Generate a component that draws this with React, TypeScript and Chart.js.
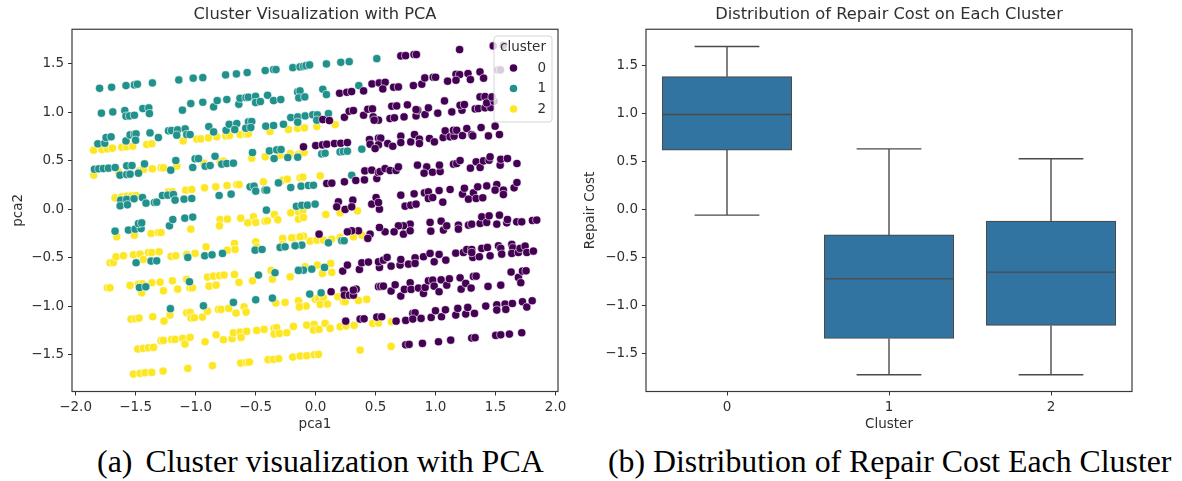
import React, { useEffect, useRef } from "react";
import { Chart, registerables } from "chart.js";

Chart.register(...registerables);

const FONT = "'DejaVu Sans', sans-serif";
const INK = "#303030";

const clusterNames = ["0", "1", "2"];
const clusterColors = ["#440154", "#21918c", "#fde725"];

const xTicksPca = [-2, -1.5, -1, -0.5, 0, 0.5, 1, 1.5, 2];
const yTicksPca = [-1.5, -1, -0.5, 0, 0.5, 1, 1.5];
const yTicksCost = [-1.5, -1, -0.5, 0, 0.5, 1, 1.5];

const cluster0Points: number[][] = [
  [0.71,1.581],[0.75,1.584],[0.82,1.595],[0.84,1.595],[1.2,1.646],[1.48,1.684],[1.565,1.69],
  [0.2,1.196],[0.26,1.206],[0.3,1.213],[0.4,1.22],[0.47,1.292],[0.53,1.302],[0.58,1.309],[0.56,1.24],[0.65,1.258],[0.69,1.261],[0.815,1.275],[0.885,1.289],[0.91,1.354],[0.98,1.361],[1.0,1.361],[1.1,1.32],[1.17,1.392],[1.2,1.388],[1.17,1.33],[1.27,1.399],[1.29,1.337],[1.37,1.416],[1.4,1.351],[1.52,1.436],[1.54,1.436],
  [0.06,0.924],[0.115,0.914],[0.24,0.948],[0.28,1.01],[0.315,1.017],[0.4,0.969],[0.435,1.031],[0.474,1.034],[0.48,0.952],[0.524,0.918],[0.488,0.918],[0.62,0.935],[0.657,0.942],[0.737,0.952],[0.837,0.962],[0.851,1.021],[0.912,0.976],[0.94,1.045],[1.018,0.99],[1.135,1.003],[1.22,1.021],[0.635,1.062],[0.676,1.065],[0.765,1.076],[0.837,1.027],[1.074,1.117],[1.204,1.072],[1.24,1.079],[1.33,1.034],[1.357,1.038],[1.412,1.045],[1.46,1.048],[1.37,1.158],[1.412,1.162],[1.426,1.096],[1.487,1.113],[1.47,1.158],
  [-0.101,0.643],[0.001,0.656],[0.057,0.663],[0.093,0.67],[0.157,0.677],[0.21,0.68],[0.265,0.687],[0.449,0.718],[0.524,0.732],[0.543,0.732],[0.454,0.67],[0.524,0.663],[0.496,0.625],[0.601,0.677],[0.643,0.649],[0.71,0.753],[0.71,0.687],[0.793,0.694],[0.824,0.77],[0.865,0.722],[0.865,0.677],[0.949,0.729],[0.99,0.694],[1.063,0.739],[1.08,0.808],[1.121,0.746],[1.154,0.753],[1.149,0.814],[1.176,0.814],[1.224,0.759],[1.26,0.832],[1.301,0.77],[1.31,0.756],[1.379,0.842],[1.44,0.756],[1.496,0.856],[1.532,0.77],
  [0.093,0.265],[0.135,0.268],[0.24,0.282],[0.335,0.296],[0.407,0.302],[0.51,0.316],[0.41,0.395],[0.468,0.402],[0.524,0.378],[0.538,0.388],[0.579,0.419],[0.621,0.399],[0.671,0.399],[0.69,0.436],[0.849,0.454],[0.926,0.436],[0.904,0.371],[0.974,0.381],[1.038,0.388],[1.032,0.454],[1.149,0.464],[1.176,0.471],[1.204,0.502],[1.29,0.423],[1.338,0.488],[1.371,0.43],[1.399,0.498],[1.446,0.505],[1.454,0.54],[1.538,0.454],[1.543,0.515],[1.599,0.522],[1.678,0.471],
  [0.19,0.076],[0.31,0.093],[0.176,0.024],[0.246,-0.003],[0.301,0.024],[0.468,0.052],[0.504,0.12],[0.532,0],[0.524,0.069],[0.71,0.144],[0.746,0.031],[0.793,0.041],[0.837,0.052],[0.821,0.158],[0.907,0.168],[0.94,0.179],[0.94,0.11],[0.976,0.12],[1.029,0.192],[1.121,0.203],[1.06,0.072],[1.224,0.155],[1.24,0.216],[1.315,0.168],[1.274,0.103],[1.338,0.11],[1.393,0.117],[1.351,0.23],[1.426,0.24],[1.51,0.254],[1.496,0.196],[1.565,0.196],[1.565,0.151],[1.654,0.22],[1.678,0.275],
  [0.954,-0.137],[0.96,-0.227],[1.046,-0.124],[1.065,-0.216],[1.093,-0.172],[1.19,-0.165],[1.19,-0.206],[1.274,-0.165],[1.301,-0.155],[1.371,-0.148],[1.385,-0.079],[1.426,-0.137],[1.446,-0.069],[1.532,-0.062],[1.51,-0.155],[1.593,-0.141],[1.599,-0.107],[1.676,-0.131],[1.718,-0.131],[1.807,-0.117],[1.843,-0.113],[0.788,-0.155],[0.732,-0.172],[0.69,-0.172],[0.732,-0.258],[0.654,-0.234],[0.788,-0.223],[0.579,-0.234],[0.532,-0.189],[0.454,-0.258],[0.435,-0.302],[0.357,-0.223],[0.301,-0.223],[0.265,-0.234],[0.029,-0.258],
  [0.226,-0.639],[0.265,-0.577],[0.365,-0.622],[0.385,-0.553],[0.44,-0.546],[0.532,-0.601],[0.524,-0.543],[0.565,-0.526],[0.596,-0.498],[0.629,-0.588],[0.704,-0.577],[0.71,-0.519],[0.774,-0.567],[0.829,-0.502],[0.829,-0.56],[0.899,-0.491],[0.954,-0.457],[0.988,-0.543],[1.029,-0.467],[1.085,-0.526],[1.168,-0.454],[1.232,-0.447],[1.26,-0.416],[1.301,-0.416],[1.31,-0.498],[1.301,-0.447],[1.365,-0.491],[1.385,-0.405],[1.432,-0.395],[1.454,-0.481],[1.524,-0.378],[1.543,-0.405],[1.551,-0.464],[1.635,-0.364],[1.643,-0.399],[1.635,-0.457],[1.69,-0.447],[1.704,-0.405],[1.746,-0.381],[1.76,-0.447],[1.815,-0.433],
  [0.129,-0.852],[0.238,-0.835],[0.24,-0.887],[0.282,-0.887],[0.315,-0.887],[0.338,-0.825],[0.315,-0.835],[0.524,-0.8],[0.543,-0.797],[0.565,-0.794],[0.629,-0.845],[0.663,-0.78],[0.71,-0.897],[0.74,-0.828],[0.788,-0.759],[0.796,-0.828],[0.857,-0.814],[0.899,-0.869],[0.913,-0.808],[0.94,-0.739],[0.976,-0.732],[0.988,-0.794],[1.029,-0.852],[1.046,-0.729],[1.093,-0.784],[1.115,-0.718],[1.213,-0.825],[1.204,-0.708],[1.251,-0.766],[1.296,-0.814],[1.315,-0.694],[1.338,-0.691],[1.437,-0.797],[1.543,-0.784],[1.629,-0.649],[1.69,-0.704],[1.71,-0.759],[1.724,-0.639],[1.754,-0.636],
  [0.251,-1.155],[0.371,-1.134],[0.404,-1.131],[0.51,-1.113],[0.551,-1.11],[0.671,-1.155],[0.751,-1.148],[0.81,-1.076],[0.829,-1.069],[0.81,-1.134],[0.879,-1.127],[0.963,-1.117],[0.999,-1.048],[1.049,-1.11],[1.082,-1.038],[1.168,-1.093],[1.185,-1.024],[1.251,-1.082],[1.268,-1.014],[1.324,-1.076],[1.418,-1.0],[1.51,-0.986],[1.51,-1.041],[1.579,-0.979],[1.585,-1.034],[1.64,-0.973],[1.724,-0.955],[1.76,-1.01],[1.805,-0.945],
  [0.751,-1.399],[0.779,-1.395],[0.89,-1.385],[1.024,-1.368],[1.126,-1.351],[1.301,-1.33],[1.329,-1.326],[1.501,-1.302],[1.543,-1.296],[1.615,-1.289],[1.718,-1.275],
];

const cluster1Points: number[][] = [
  [-1.8,1.247],[-1.7,1.258],[-1.58,1.275],[-1.51,1.282],[-1.485,1.289],[-1.36,1.302],[-1.14,1.333],[-1.02,1.351],[-0.94,1.357],[-0.75,1.385],[-0.66,1.395],[-0.57,1.409],[-0.42,1.43],[-0.35,1.44],[-0.33,1.44],[-0.19,1.46],[-0.13,1.467],[-0.1,1.474],[-0.08,1.48],[-0.05,1.488],[0.09,1.498],[0.21,1.515],[0.28,1.522],[0.51,1.553],
  [-1.785,0.99],[-1.69,1.003],[-1.59,1.017],[-1.58,0.959],[-1.55,0.962],[-1.51,0.969],[-1.44,1.038],[-1.39,1.045],[-1.385,0.986],[-1.11,1.021],[-1.04,1.089],[-0.94,1.103],[-0.85,1.055],[-0.82,1.12],[-0.74,1.131],[-0.64,1.082],[-0.63,1.144],[-0.58,1.151],[-0.56,1.155],[-0.5,1.165],[-0.5,1.1],[-0.46,1.11],[-0.4,1.175],[-0.35,1.12],[-0.29,1.131],[-0.15,1.21],[-0.13,1.22],[-0.14,1.148],[-0.09,1.158],[0.06,1.237],[0.09,1.182],[0.36,1.275],
  [-1.815,0.674],[-1.757,0.68],[-1.746,0.739],[-1.704,0.746],[-1.58,0.704],[-1.546,0.766],[-1.51,0.773],[-1.496,0.777],[-1.5,0.711],[-1.38,0.787],[-1.31,0.739],[-1.226,0.808],[-1.2,0.811],[-1.15,0.818],[-1.087,0.828],[-1.157,0.763],[-1.074,0.77],[-1.046,0.77],[-0.89,0.852],[-0.85,0.797],[-0.746,0.814],[-0.72,0.876],[-0.657,0.883],[-0.674,0.821],[-0.56,0.9],[-0.532,0.904],[-0.582,0.835],[-0.54,0.842],[-0.415,0.856],[-0.35,0.863],[-0.268,0.876],[-0.207,0.945],[-0.149,0.952],[-0.149,0.897],[-0.087,0.962],[-0.024,0.973],[0.015,0.973],[0.01,0.918],[0.107,0.986],
  [-1.843,0.412],[-1.807,0.416],[-1.768,0.419],[-1.726,0.423],[-1.67,0.43],[-1.574,0.447],[-1.53,0.45],[-1.426,0.467],[-1.63,0.351],[-1.574,0.357],[-1.546,0.361],[-1.476,0.371],[-1.207,0.402],[-1.165,0.502],[-1.024,0.43],[-1.004,0.519],[-0.976,0.522],[-0.92,0.443],[-0.879,0.45],[-0.838,0.546],[-0.782,0.464],[-0.74,0.471],[-0.685,0.474],[-0.526,0.584],[-0.385,0.601],[-0.324,0.612],[-0.288,0.615],[-0.346,0.522],[-0.232,0.533],[-0.149,0.536],[0.051,0.57],[0.079,0.577],[0.204,0.591],[0.232,0.595],[0.265,0.598],[0.385,0.619],
  [-1.624,0.093],[-1.574,0.1],[-1.629,0.034],[-1.568,0.045],[-1.513,0.107],[-1.443,0.12],[-1.413,0.062],[-1.343,0.069],[-1.324,0.072],[-1.276,0.141],[-1.232,0.144],[-1.185,0.151],[-1.171,0.093],[-1.096,0.103],[-1.032,0.11],[-0.804,0.141],[-0.704,0.155],[-0.546,0.23],[-0.513,0.237],[-0.499,0.186],[-0.421,0.196],[-0.407,0.196],[-0.31,0.271],[-0.207,0.223],[-0.121,0.237],[-0.06,0.244],[-0.018,0.247],[0.301,0.35],
  [-1.671,-0.227],[-1.56,-0.216],[-1.504,-0.206],[-1.454,-0.2],[-1.476,-0.148],[-1.449,-0.141],[-1.218,-0.172],[-1.19,-0.107],[-1.09,-0.093],[-1.024,-0.082],[-0.41,-0.01],[-0.16,0.03],[-0.115,0.04],[-0.068,0.041],[-0.004,0.052],
  [-0.171,-0.375],[-0.115,-0.371],[0.107,-0.347],[0.218,-0.326],[0.238,-0.326],
  [-1.496,-0.553],[-1.371,-0.536],[-1.324,-0.533],[-1.065,-0.498],[-0.924,-0.481],[-0.863,-0.471],[-0.776,-0.457],[-0.504,-0.423],[-0.446,-0.416],[-0.296,-0.395],[-0.254,-0.388],[-0.171,-0.378],[-0.143,-0.629],[-0.101,-0.629],[-0.032,-0.619],[0.074,-0.601],
  [-1.468,-0.808],[-1.415,-0.801],[-1.051,-0.749],[-0.476,-0.68],[-0.338,-0.656],[-0.143,-0.632],[-0.049,-0.876],[0.046,-0.863],
  [-1.21,-1.027],[-0.935,-0.997],[-0.685,-0.962],[-0.499,-0.935],[-0.36,-0.918],
];

const cluster2Points: number[][] = [
  [-1.85,0.608],[-1.78,0.615],[-1.735,0.622],[-1.693,0.629],[-1.615,0.639],[-1.574,0.643],[-1.524,0.649],[-1.407,0.667],[-1.365,0.674],[-1.104,0.704],[-0.99,0.722],[-0.957,0.725],[-0.893,0.735],[-0.824,0.746],[-0.749,0.756],[-0.718,0.759],[-0.629,0.77],[-0.58,0.773],[-0.56,0.777],[-0.38,0.8],[-0.226,0.821],[-0.149,0.832],[-0.093,0.838],[0.01,0.852],[0.163,0.873],
  [-1.849,0.351],[-1.643,0.385],[-1.468,0.395],[-1.435,0.409],[-1.36,0.416],[-1.288,0.426],[-1.268,0.426],[-1.157,0.443],[-0.93,0.474],[-0.796,0.491],[-0.768,0.495],[-0.532,0.526],[-0.42,0.54],[-0.296,0.557],[-0.212,0.574],[-0.143,0.567],[-0.115,0.581],[-0.096,0.584],
  [-1.671,0.117],[-1.615,0.127],[-1.574,0.134],[-1.532,0.137],[-1.496,0.141],[-1.226,0.179],[-1.193,0.179],[-1.082,0.196],[-1.032,0.203],[-0.926,0.22],[-0.832,0.23],[-0.738,0.244],[-0.657,0.254],[-0.638,0.254],[-0.435,0.282],[-0.274,0.299],[-0.235,0.309],[-0.129,0.323],[-0.107,0.33],[0.038,0.344],
  [-1.657,-0.285],[-1.51,-0.268],[-1.371,-0.251],[-1.31,-0.241],[-1.288,-0.241],[-1.04,-0.206],[-0.796,-0.107],[-0.735,-0.103],[-0.801,-0.172],[-0.624,-0.093],[-0.565,-0.141],[-0.518,-0.079],[-0.499,-0.137],[-0.421,-0.124],[-0.401,-0.12],[-0.343,-0.055],[-0.315,-0.11],[-0.207,-0.038],[-0.143,-0.103],[-0.143,-0.027],[-0.107,-0.017],[-0.101,-0.086],[0.085,-0.055],[0.204,-0.038],[0.349,-0.017],
  [-0.185,-0.296],[-0.101,-0.278],[-0.046,-0.33],[0.01,-0.32],[0.065,-0.32],[0.135,-0.309],[0.204,-0.292],[0.315,-0.285],[0.385,-0.268],
  [-1.713,-0.553],[-1.685,-0.55],[-1.663,-0.491],[-1.601,-0.481],[-1.518,-0.471],[-1.463,-0.464],[-1.435,-0.519],[-1.393,-0.447],[-1.365,-0.447],[-1.304,-0.44],[-1.204,-0.488],[-1.165,-0.481],[-1.074,-0.467],[-1.004,-0.457],[-0.913,-0.388],[-0.735,-0.423],[-0.676,-0.354],[-0.671,-0.416],[-0.499,-0.337],[-0.49,-0.388],[-0.274,-0.302],[-0.274,-0.364],[-0.199,-0.296],[-0.129,-0.285],[-0.087,-0.594],[0.015,-0.577],[0.126,-0.56],[0.057,-0.663],[0.135,-0.653],
  [-1.735,-0.811],[-1.713,-0.811],[-1.546,-0.787],[-1.476,-0.773],[-1.443,-0.77],[-1.449,-0.863],[-1.365,-0.759],[-1.296,-0.753],[-1.268,-0.842],[-1.193,-0.739],[-1.149,-0.825],[-1.074,-0.725],[-1.046,-0.814],[-1.026,-0.811],[-0.901,-0.701],[-0.888,-0.794],[-0.851,-0.691],[-0.829,-0.784],[-0.801,-0.687],[-0.763,-0.68],[-0.676,-0.674],[-0.638,-0.756],[-0.526,-0.739],[-0.371,-0.632],[-0.36,-0.722],[-0.212,-0.698],
  [-0.138,-0.945],[-0.135,-1.014],[-0.079,-1.0],[-0.004,-0.928],[0.024,-0.921],[0.065,-0.914],[0.038,-0.983],[0.099,-0.979],[0.185,-0.904],[0.232,-0.955],[0.246,-0.955],[0.357,-0.942],[0.426,-0.931],
  [-1.538,-1.134],[-1.499,-1.131],[-1.471,-1.124],[-1.357,-1.11],[-1.263,-1.155],[-1.213,-1.093],[-1.074,-1.069],[-1.046,-1.065],[-1.038,-1.124],[-1.01,-1.12],[-0.943,-1.113],[-0.901,-1.052],[-0.81,-1.034],[-0.788,-1.034],[-0.724,-1.024],[-0.663,-1.072],[-0.596,-1.007],[-0.579,-1.062],[-0.332,-0.969],[-0.254,-0.962],[-0.143,-0.945],[-0.135,-1.007],
  [-1.482,-1.443],[-1.435,-1.436],[-1.393,-1.43],[-1.351,-1.426],[-1.288,-1.357],[-1.268,-1.354],[-1.199,-1.344],[-1.171,-1.344],[-1.107,-1.333],[-1.088,-1.392],[-1.046,-1.323],[-0.921,-1.368],[-0.829,-1.296],[-0.768,-1.347],[-0.696,-1.337],[-0.685,-1.275],[-0.629,-1.268],[-0.621,-1.323],[-0.574,-1.261],[-0.49,-1.251],[-0.429,-1.241],[-0.346,-1.23],[-0.324,-1.223],[-0.346,-1.289],[-0.301,-1.282],[-0.24,-1.275],[-0.185,-1.21],
  [-0.074,-1.196],[-0.012,-1.189],[-0.018,-1.247],[0.029,-1.241],[0.079,-1.179],[0.121,-1.23],[0.204,-1.213],[0.254,-1.206],[0.321,-1.199],[0.476,-1.179],[0.524,-1.175],[0.632,-1.162],
  [-1.518,-1.701],[-1.463,-1.694],[-1.421,-1.687],[-1.365,-1.684],[-1.271,-1.67],[-1.065,-1.643],[-0.86,-1.615],[-0.624,-1.588],[-0.574,-1.581],[-0.551,-1.577],[-0.396,-1.553],[-0.351,-1.55],[-0.307,-1.543],[-0.19,-1.526],[-0.129,-1.515],[-0.074,-1.512],[-0.012,-1.502],[0.024,-1.498],[0.371,-1.454],[0.629,-1.416],
];

const boxCategories = [0, 1, 2];
const whiskerHigh = [1.7, 0.632, 0.53];
const quartile3 = [1.385, -0.264, -0.12];
const medians = [0.99, -0.722, -0.652];
const quartile1 = [0.62, -1.344, -1.208];
const whiskerLow = [-0.058, -1.722, -1.722];

const toXY = (pts: number[][]) => pts.map(([x, y]) => ({ x, y }));
const gap = { x: null, y: null };
const fmt = (v: number) => v.toFixed(1).replace("-", "\u2212");

const axis = (opts: any) => ({
  type: "linear",
  offset: false,
  min: opts.min,
  max: opts.max,
  afterBuildTicks: (s: any) => { s.ticks = opts.ticks.map((value: number) => ({ value })); },
  afterFit: (s: any) => {
    if (opts.width !== undefined) s.width = opts.width;
    if (opts.height !== undefined) s.height = opts.height;
  },
  grid: { offset: false, drawOnChartArea: false, drawTicks: true, tickLength: 4, tickColor: INK, tickWidth: 1 },
  border: { display: false },
  ticks: {
    autoSkip: false, maxRotation: 0, padding: 4, color: INK,
    font: { family: FONT, size: 13.5 },
    callback: opts.format,
  },
  title: {
    display: true, text: opts.title, color: INK,
    font: { family: FONT, size: 13.5 },
    padding: opts.titlePadding,
  },
});

const frame = {
  id: "frame",
  afterDraw(chart: any) {
    const { ctx, chartArea: a } = chart;
    ctx.save();
    ctx.strokeStyle = "#3a3a3a";
    ctx.lineWidth = 1.2;
    ctx.strokeRect(a.left, a.top, a.right - a.left, a.bottom - a.top);
    ctx.restore();
  },
};

const legendBox = {
  id: "legendBox",
  afterDatasetsDraw(chart: any) {
    const { ctx } = chart;
    ctx.save();
    ctx.beginPath();
    ctx.roundRect(494, 36, 58, 86, 3);
    ctx.fillStyle = "rgba(255,255,255,0.8)";
    ctx.fill();
    ctx.strokeStyle = "rgba(204,204,204,0.8)";
    ctx.lineWidth = 1;
    ctx.stroke();
    ctx.font = `13.5px ${FONT}`;
    ctx.fillStyle = INK;
    ctx.textBaseline = "middle";
    ctx.textAlign = "center";
    ctx.fillText("cluster", 523, 47);
    clusterNames.forEach((name, i) => {
      const y = 68 + i * 20.5;
      ctx.beginPath();
      ctx.arc(513.5, y, 3.8, 0, Math.PI * 2);
      ctx.fillStyle = clusterColors[i];
      ctx.fill();
      ctx.fillStyle = INK;
      ctx.textAlign = "left";
      ctx.fillText(name, 537.5, y);
    });
    ctx.restore();
  },
};

const titleOpts = (text: string) => ({
  display: true, text, color: INK, fullSize: false,
  font: { family: FONT, size: 16.3, weight: "normal" },
  padding: { top: 5, bottom: 4.7 },
});

function makeScatter(canvas: HTMLCanvasElement) {
  const points = [cluster0Points, cluster1Points, cluster2Points];
  return new Chart(canvas, {
    type: "scatter",
    data: {
      datasets: clusterNames.map((name, i) => ({
        label: name,
        data: toXY(points[i]),
        backgroundColor: clusterColors[i],
        borderColor: "rgba(255,255,255,0.75)",
        borderWidth: 0.8,
        pointRadius: 4.1,
      })),
    },
    options: {
      responsive: false, animation: false, events: [],
      layout: { padding: { right: 42 } },
      plugins: { legend: { display: false }, tooltip: { enabled: false }, title: titleOpts("Cluster Visualization with PCA") },
      scales: {
        x: axis({ min: -2.03, max: 2.02, ticks: xTicksPca, format: fmt, height: 48.5, title: "pca1", titlePadding: { top: 0, bottom: 7.5 } }),
        y: axis({ min: -1.881, max: 1.856, ticks: yTicksPca, format: fmt, width: 72, title: "pca2", titlePadding: { top: 10, bottom: 0 } }),
      },
    } as any,
    plugins: [legendBox, frame],
  });
}

function makeBox(canvas: HTMLCanvasElement) {
  const whiskers: any[] = [];
  boxCategories.forEach((c, i) => {
    whiskers.push({ x: c, y: whiskerHigh[i] }, { x: c, y: quartile3[i] }, gap);
    whiskers.push({ x: c, y: quartile1[i] }, { x: c, y: whiskerLow[i] }, gap);
    whiskers.push({ x: c - 0.2, y: whiskerHigh[i] }, { x: c + 0.2, y: whiskerHigh[i] }, gap);
    whiskers.push({ x: c - 0.2, y: whiskerLow[i] }, { x: c + 0.2, y: whiskerLow[i] }, gap);
  });
  const medianLines: any[] = [];
  boxCategories.forEach((c, i) => {
    medianLines.push({ x: c - 0.4, y: medians[i] }, { x: c + 0.4, y: medians[i] }, gap);
  });
  const line = { type: "scatter", showLine: true, spanGaps: false, pointRadius: 0, borderColor: "#4a4a4a", borderWidth: 1.4 };
  return new Chart(canvas, {
    type: "bar",
    data: {
      datasets: [
        { ...line, label: "median", data: medianLines, order: 0 },
        {
          type: "bar", label: "Repair Cost", order: 1,
          data: boxCategories.map((c, i) => ({ x: c, y: [quartile1[i], quartile3[i]] })),
          backgroundColor: "#3274a1", borderColor: "#4a4a4a", borderWidth: 1.2, borderSkipped: false,
          barThickness: 129.6, grouped: false,
        },
        { ...line, label: "whiskers", data: whiskers, order: 2 },
      ],
    },
    options: {
      responsive: false, animation: false, events: [],
      layout: { padding: { right: 50 } },
      plugins: { legend: { display: false }, tooltip: { enabled: false }, title: titleOpts("Distribution of Repair Cost on Each Cluster") },
      scales: {
        x: axis({ min: -0.5, max: 2.5, ticks: boxCategories, format: (v: number) => String(v), height: 48.5, title: "Cluster", titlePadding: { top: 0, bottom: 7.5 } }),
        y: axis({ min: -1.896, max: 1.879, ticks: yTicksCost, format: fmt, width: 85, title: "Repair Cost", titlePadding: { top: 21.5, bottom: 0 } }),
      },
    } as any,
    plugins: [frame],
  });
}

const caption: React.CSSProperties = {
  position: "absolute", top: 443, fontFamily: "'Liberation Serif', serif", fontSize: 31.8,
  lineHeight: "38px", color: "#000", whiteSpace: "pre",
};

const softCanvas: React.CSSProperties = { position: "absolute", top: 0, filter: "blur(0.35px)" };

export default function App() {
  const a = useRef<HTMLCanvasElement>(null);
  const b = useRef<HTMLCanvasElement>(null);
  useEffect(() => {
    const c1 = makeScatter(a.current!);
    const c2 = makeBox(b.current!);
    return () => { c1.destroy(); c2.destroy(); };
  }, []);
  return (
    <div style={{ position: "absolute", left: 0, top: 0, width: 1182, height: 481, background: "#fff", overflow: "hidden" }}>
      <canvas ref={a} width={600} height={440} style={{ ...softCanvas, left: 0 }} />
      <canvas ref={b} width={621} height={440} style={{ ...softCanvas, left: 561 }} />
      <div style={{ ...caption, left: 97, fontSize: 31.95 }}>
        <span style={{ marginRight: 5 }}>(a)</span>{" Cluster visualization with PCA"}
      </div>
      <div style={{ ...caption, left: 608 }}>{"(b) Distribution of Repair Cost Each Cluster"}</div>
    </div>
  );
}
